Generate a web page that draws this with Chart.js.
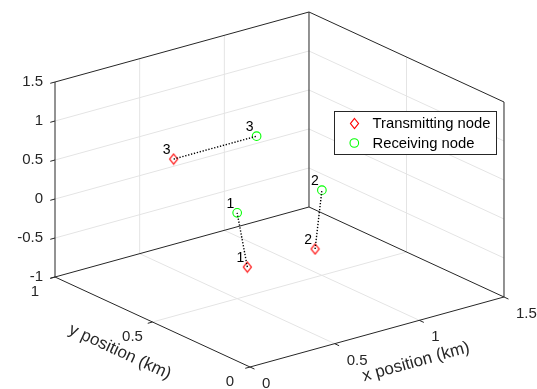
<!DOCTYPE html>
<html>
<head>
<meta charset="utf-8">
<script src="https://cdn.jsdelivr.net/npm/chart.js@4.4.1/dist/chart.umd.min.js"></script>
<style>
  html, body { margin: 0; padding: 0; background: #fff; overflow: hidden; }
  canvas { display: block; }
</style>
</head>
<body>
<canvas id="c" width="537" height="389"></canvas>
<script>
// Axis ticks (km)
const xTicks = [0, 0.5, 1, 1.5];
const yTicks = [0, 0.5, 1];
const zTicks = [-1, -0.5, 0, 0.5, 1, 1.5];

// Node pairs: transmitter i talks to receiver i
const nodeIds = ['1', '2', '3'];
const txX = [0.56, 0.73, 0.24];
const txY = [0.50, 0.30, 0.60];
const txZ = [-0.63, -0.27, 0.83];
const rxX = [0.50, 0.77, 0.73];
const rxY = [0.50, 0.30, 0.60];
const rxZ = [0.10, 0.46, 0.83];

const seriesNames = ['Transmitting node', 'Receiving node'];
const axisTitles = ['x position (km)', 'y position (km)'];

// Box limits
const X0 = xTicks[0], X1 = xTicks[xTicks.length - 1];
const Y0 = yTicks[0], Y1 = yTicks[yTicks.length - 1];
const Z0 = zTicks[0], Z1 = zTicks[zTicks.length - 1];

// Fixed 3-D view: maps (x, y, z) onto the flat page plane used by the scatter scales
const VIEW = { ox: 250, oy: 367, xx: 169.33, xy: -46.67, yx: -195, yy: -90, zy: -78 };
function proj(x, y, z) {
  return {
    x: VIEW.ox + VIEW.xx * x + VIEW.yx * y,
    y: VIEW.oy + VIEW.xy * x + VIEW.yy * y + VIEW.zy * (z - Z0)
  };
}

const FONT = '"Liberation Sans", Arial, Helvetica, sans-serif';
const EDGE = '#262626';
const GRID = '#e4e4e4';
const TX_COLOR = '#ff0000';
const RX_COLOR = '#00ff00';

// Diamond marker (taller than wide)
function makeDiamond() {
  const c = document.createElement('canvas');
  c.width = 11; c.height = 13;
  const g = c.getContext('2d');
  g.strokeStyle = TX_COLOR;
  g.lineWidth = 1.2;
  g.beginPath();
  g.moveTo(5.5, 1.5); g.lineTo(9.5, 6.5); g.lineTo(5.5, 11.5); g.lineTo(1.5, 6.5);
  g.closePath();
  g.stroke();
  return c;
}
const diamond = makeDiamond();

function segment(a, b, color, width, order, dash) {
  return {
    data: [a, b],
    showLine: true,
    borderColor: color,
    borderWidth: width,
    borderDash: dash || [],
    pointRadius: 0,
    pointHoverRadius: 0,
    fill: false,
    tension: 0,
    order: order
  };
}

const datasets = [];

// Grid lines on the back walls and the floor
const inner = arr => arr.slice(1, -1);
inner(xTicks).forEach(x => {
  datasets.push(segment(proj(x, Y1, Z0), proj(x, Y1, Z1), GRID, 1, 10));
  datasets.push(segment(proj(x, Y0, Z0), proj(x, Y1, Z0), GRID, 1, 10));
});
inner(yTicks).forEach(y => {
  datasets.push(segment(proj(X1, y, Z0), proj(X1, y, Z1), GRID, 1, 10));
  datasets.push(segment(proj(X0, y, Z0), proj(X1, y, Z0), GRID, 1, 10));
});
inner(zTicks).forEach(z => {
  datasets.push(segment(proj(X0, Y1, z), proj(X1, Y1, z), GRID, 1, 10));
  datasets.push(segment(proj(X1, Y0, z), proj(X1, Y1, z), GRID, 1, 10));
});

// Box edges
[
  [[X0, Y1, Z0], [X0, Y1, Z1]],
  [[X1, Y1, Z0], [X1, Y1, Z1]],
  [[X1, Y0, Z0], [X1, Y0, Z1]],
  [[X0, Y1, Z1], [X1, Y1, Z1]],
  [[X1, Y1, Z1], [X1, Y0, Z1]],
  [[X0, Y0, Z0], [X0, Y1, Z0]],
  [[X0, Y0, Z0], [X1, Y0, Z0]],
  [[X0, Y1, Z0], [X1, Y1, Z0]],
  [[X1, Y0, Z0], [X1, Y1, Z0]]
].forEach(([a, b]) => datasets.push(segment(proj(...a), proj(...b), EDGE, 1, 8)));

// Tick marks pointing out of the box
const tx = 0.028, ty = 0.023;
xTicks.forEach(x => datasets.push(segment(proj(x, Y0, Z0), proj(x, Y0 - ty, Z0), EDGE, 1, 8)));
yTicks.forEach(y => datasets.push(segment(proj(X0, y, Z0), proj(X0 - tx, y, Z0), EDGE, 1, 8)));
zTicks.forEach(z => datasets.push(segment(proj(X0, Y1, z), proj(X0 - tx, Y1, z), EDGE, 1, 8)));

// Markers
const txPts = txX.map((x, i) => proj(x, txY[i], txZ[i]));
const rxPts = rxX.map((x, i) => proj(x, rxY[i], rxZ[i]));
datasets.push({
  label: seriesNames[0],
  data: txPts,
  showLine: false,
  pointStyle: diamond,
  pointRadius: 5,
  pointHoverRadius: 5,
  order: 3
});
datasets.push({
  label: seriesNames[1],
  data: rxPts,
  showLine: false,
  pointStyle: 'circle',
  pointRadius: 4.3,
  pointHoverRadius: 4.3,
  pointBorderColor: RX_COLOR,
  pointBackgroundColor: 'rgba(0,0,0,0)',
  pointBorderWidth: 1.1,
  order: 3
});

// Dotted links between each transmitter and its receiver
txPts.forEach((p, i) => datasets.push(segment(p, rxPts[i], '#000000', 1.4, 1, [1.3, 1.7])));

const fmt = v => String(v);

const textLayer = {
  id: 'textLayer',
  afterDatasetsDraw(chart) {
    const ctx = chart.ctx;
    ctx.save();
    ctx.fillStyle = EDGE;

    // z tick labels
    ctx.font = '15px ' + FONT;
    ctx.textAlign = 'right';
    ctx.textBaseline = 'middle';
    zTicks.forEach(z => {
      const p = proj(X0, Y1, z);
      ctx.fillText(fmt(z), p.x - 12, p.y);
    });
    // y tick labels
    ctx.textAlign = 'center';
    yTicks.forEach(y => {
      const p = proj(X0, y, Z0);
      ctx.fillText(fmt(y), p.x - 20, p.y + 15);
    });
    // x tick labels
    ctx.textAlign = 'left';
    xTicks.forEach(x => {
      const p = proj(x, Y0, Z0);
      ctx.fillText(fmt(x), p.x + 12, p.y + 17);
    });

    // Axis titles, running along their edges
    ctx.font = '17px ' + FONT;
    ctx.textAlign = 'center';
    ctx.textBaseline = 'middle';
    const ax = proj(X0, Y0, Z0), bx = proj(X1, Y0, Z0);
    ctx.save();
    ctx.translate(416, 362);
    ctx.rotate(Math.atan2(bx.y - ax.y, bx.x - ax.x));
    ctx.fillText(axisTitles[0], 0, 0);
    ctx.restore();
    const ay = proj(X0, Y1, Z0), by = proj(X0, Y0, Z0);
    ctx.save();
    ctx.translate(120, 352);
    ctx.rotate(Math.atan2(by.y - ay.y, by.x - ay.x));
    ctx.fillText(axisTitles[1], 0, 0);
    ctx.restore();

    // Node numbers beside each marker
    ctx.font = '14px ' + FONT;
    ctx.fillStyle = '#000000';
    ctx.textAlign = 'right';
    ctx.textBaseline = 'bottom';
    txPts.forEach((p, i) => ctx.fillText(nodeIds[i], p.x - 3, p.y - 2));
    rxPts.forEach((p, i) => ctx.fillText(nodeIds[i], p.x - 3, p.y - 2));

    // Legend
    const lx = 334.5, ly = 111.5, lw = 162, lh = 43;
    ctx.fillStyle = '#ffffff';
    ctx.fillRect(lx, ly, lw, lh);
    ctx.strokeStyle = EDGE;
    ctx.lineWidth = 1;
    ctx.strokeRect(lx, ly, lw, lh);
    const mx = 354.3;
    const rows = [123.5, 143];
    ctx.drawImage(diamond, Math.round(mx - diamond.width / 2), Math.round(rows[0] - diamond.height / 2));
    ctx.beginPath();
    ctx.arc(mx, rows[1], 4.3, 0, Math.PI * 2);
    ctx.strokeStyle = RX_COLOR;
    ctx.lineWidth = 1.1;
    ctx.stroke();
    ctx.fillStyle = '#000000';
    ctx.font = '14.8px ' + FONT;
    ctx.textAlign = 'left';
    ctx.textBaseline = 'middle';
    ctx.fillText(seriesNames[0], 372.5, rows[0] + 0.5);
    ctx.fillText(seriesNames[1], 372.5, rows[1] + 0.5);
    ctx.restore();
  }
};

new Chart(document.getElementById('c'), {
  type: 'scatter',
  data: { datasets },
  options: {
    responsive: false,
    animation: false,
    events: [],
    layout: { padding: 0, autoPadding: false },
    scales: {
      x: { type: 'linear', min: 0, max: 537, display: false },
      y: { type: 'linear', min: 0, max: 389, reverse: true, display: false }
    },
    plugins: { legend: { display: false }, tooltip: { enabled: false } }
  },
  plugins: [textLayer]
});
</script>
</body>
</html>
